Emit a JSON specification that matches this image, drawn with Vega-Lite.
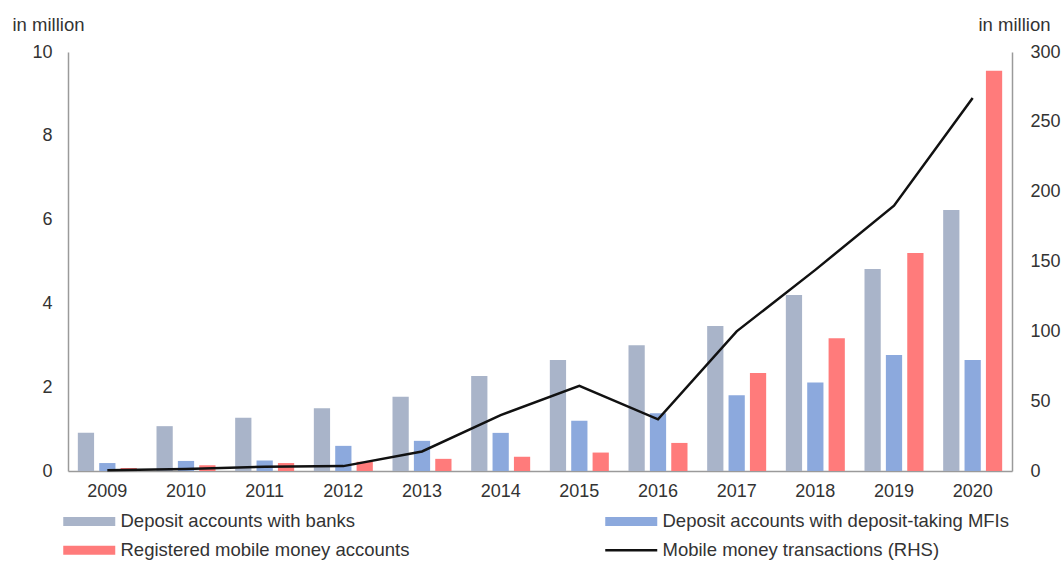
{
  "$schema": "https://vega.github.io/schema/vega-lite/v6.json",
  "autosize": {"type": "none"},
  "width": 944,
  "height": 419,
  "padding": {"left": 68, "top": 52, "right": 50, "bottom": 90},
  "background": "white",
  "config": {
    "view": {"stroke": null},
    "font": "Liberation Sans",
    "axis": {"labelFont": "Liberation Sans", "titleFont": "Liberation Sans", "labelColor": "#333333", "titleColor": "#333333", "domainColor": "#9a9a9a", "domainWidth": 1.5, "ticks": false, "grid": false},
    "legend": {"labelFont": "Liberation Sans", "labelColor": "#333333"}
  },
  "data": {
    "values": [
      {"year": "2009", "series": "Deposit accounts with banks", "value": 0.91},
      {"year": "2010", "series": "Deposit accounts with banks", "value": 1.07},
      {"year": "2011", "series": "Deposit accounts with banks", "value": 1.27},
      {"year": "2012", "series": "Deposit accounts with banks", "value": 1.5},
      {"year": "2013", "series": "Deposit accounts with banks", "value": 1.77},
      {"year": "2014", "series": "Deposit accounts with banks", "value": 2.27},
      {"year": "2015", "series": "Deposit accounts with banks", "value": 2.65},
      {"year": "2016", "series": "Deposit accounts with banks", "value": 3.0},
      {"year": "2017", "series": "Deposit accounts with banks", "value": 3.46},
      {"year": "2018", "series": "Deposit accounts with banks", "value": 4.2},
      {"year": "2019", "series": "Deposit accounts with banks", "value": 4.82},
      {"year": "2020", "series": "Deposit accounts with banks", "value": 6.23},
      {"year": "2009", "series": "Deposit accounts with deposit-taking MFIs", "value": 0.19},
      {"year": "2010", "series": "Deposit accounts with deposit-taking MFIs", "value": 0.24},
      {"year": "2011", "series": "Deposit accounts with deposit-taking MFIs", "value": 0.25},
      {"year": "2012", "series": "Deposit accounts with deposit-taking MFIs", "value": 0.6},
      {"year": "2013", "series": "Deposit accounts with deposit-taking MFIs", "value": 0.72},
      {"year": "2014", "series": "Deposit accounts with deposit-taking MFIs", "value": 0.91},
      {"year": "2015", "series": "Deposit accounts with deposit-taking MFIs", "value": 1.2},
      {"year": "2016", "series": "Deposit accounts with deposit-taking MFIs", "value": 1.38},
      {"year": "2017", "series": "Deposit accounts with deposit-taking MFIs", "value": 1.81},
      {"year": "2018", "series": "Deposit accounts with deposit-taking MFIs", "value": 2.11},
      {"year": "2019", "series": "Deposit accounts with deposit-taking MFIs", "value": 2.77},
      {"year": "2020", "series": "Deposit accounts with deposit-taking MFIs", "value": 2.65},
      {"year": "2009", "series": "Registered mobile money accounts", "value": 0.07},
      {"year": "2010", "series": "Registered mobile money accounts", "value": 0.14},
      {"year": "2011", "series": "Registered mobile money accounts", "value": 0.19},
      {"year": "2012", "series": "Registered mobile money accounts", "value": 0.22},
      {"year": "2013", "series": "Registered mobile money accounts", "value": 0.29},
      {"year": "2014", "series": "Registered mobile money accounts", "value": 0.34},
      {"year": "2015", "series": "Registered mobile money accounts", "value": 0.44},
      {"year": "2016", "series": "Registered mobile money accounts", "value": 0.67},
      {"year": "2017", "series": "Registered mobile money accounts", "value": 2.34},
      {"year": "2018", "series": "Registered mobile money accounts", "value": 3.17},
      {"year": "2019", "series": "Registered mobile money accounts", "value": 5.2},
      {"year": "2020", "series": "Registered mobile money accounts", "value": 9.55},
      {"year": "2009", "series": "Mobile money transactions (RHS)", "value": 0.5},
      {"year": "2010", "series": "Mobile money transactions (RHS)", "value": 1.5},
      {"year": "2011", "series": "Mobile money transactions (RHS)", "value": 3},
      {"year": "2012", "series": "Mobile money transactions (RHS)", "value": 3.5},
      {"year": "2013", "series": "Mobile money transactions (RHS)", "value": 14},
      {"year": "2014", "series": "Mobile money transactions (RHS)", "value": 40},
      {"year": "2015", "series": "Mobile money transactions (RHS)", "value": 61},
      {"year": "2016", "series": "Mobile money transactions (RHS)", "value": 37},
      {"year": "2017", "series": "Mobile money transactions (RHS)", "value": 100},
      {"year": "2018", "series": "Mobile money transactions (RHS)", "value": 144},
      {"year": "2019", "series": "Mobile money transactions (RHS)", "value": 190},
      {"year": "2020", "series": "Mobile money transactions (RHS)", "value": 267}
    ]
  },
  "layer": [
    {
      "transform": [{"filter": "datum.series !== 'Mobile money transactions (RHS)'"}],
      "mark": {"type": "bar"},
      "encoding": {
        "x": {
          "field": "year", "type": "nominal",
          "scale": {"paddingInner": 0.25, "paddingOuter": 0.125},
          "axis": {"title": null, "labelAngle": 0, "labelFontSize": 18, "labelPadding": 11, "labelBaseline": "top"}
        },
        "xOffset": {
          "field": "series", "type": "nominal",
          "scale": {"domain": ["Deposit accounts with banks", "Deposit accounts with deposit-taking MFIs", "Registered mobile money accounts"], "paddingInner": 0.24, "paddingOuter": 0}
        },
        "y": {
          "field": "value", "type": "quantitative",
          "scale": {"domain": [0, 10], "nice": false},
          "axis": {"values": [0, 2, 4, 6, 8, 10], "labelFontSize": 18, "labelPadding": 16, "title": "in million", "titleAngle": 0, "titleFontSize": 18.5, "titleFontWeight": "normal", "titleAlign": "left", "titleBaseline": "alphabetic", "titleX": -56, "titleY": -22}
        },
        "color": {
          "field": "series", "type": "nominal",
          "scale": {
            "domain": ["Deposit accounts with banks", "Deposit accounts with deposit-taking MFIs", "Registered mobile money accounts", "Mobile money transactions (RHS)"],
            "range": ["#A9B4C9", "#8CA9DD", "#FF7B7B", "#111111"]
          },
          "legend": {
            "title": null,
            "orient": "none",
            "legendX": -9,
            "legendY": 460,
            "columns": 2,
            "direction": "horizontal",
            "columnPadding": 191,
            "rowPadding": 10,
            "labelFontSize": 18.5,
            "labelLimit": 500,
            "symbolSize": 100,
            "symbolOffset": 21,
            "labelOffset": 22,
            "symbolStrokeWidth": 0,
            "symbolOpacity": 1,
            "encode": {
              "symbols": {
                "update": {
                  "shape": {"signal": "datum.label === 'Mobile money transactions (RHS)' ? 'M-5.2,-0.25L5.2,-0.25L5.2,0.25L-5.2,0.25Z' : 'M-5.2,-0.9L5.2,-0.9L5.2,0.9L-5.2,0.9Z'"},
                  "fill": {"scale": "color", "field": "value"},
                  "stroke": {"value": "transparent"},
                  "strokeWidth": {"value": 0},
                  "opacity": {"value": 1}
                }
              }
            }
          }
        }
      }
    },
    {
      "transform": [{"filter": "datum.series === 'Mobile money transactions (RHS)'"}],
      "mark": {"type": "line", "strokeWidth": 2.5},
      "encoding": {
        "x": {"field": "year", "type": "nominal"},
        "y": {
          "field": "value", "type": "quantitative",
          "scale": {"domain": [0, 300], "nice": false},
          "axis": {"orient": "right", "values": [0, 50, 100, 150, 200, 250, 300], "labelFontSize": 18, "labelPadding": 18, "title": "in million", "titleAngle": 0, "titleFontSize": 18.5, "titleFontWeight": "normal", "titleAlign": "left", "titleBaseline": "alphabetic", "titleX": -34, "titleY": -22}
        },
        "color": {"field": "series", "type": "nominal"}
      }
    }
  ],
  "resolve": {"scale": {"y": "independent"}}
}
